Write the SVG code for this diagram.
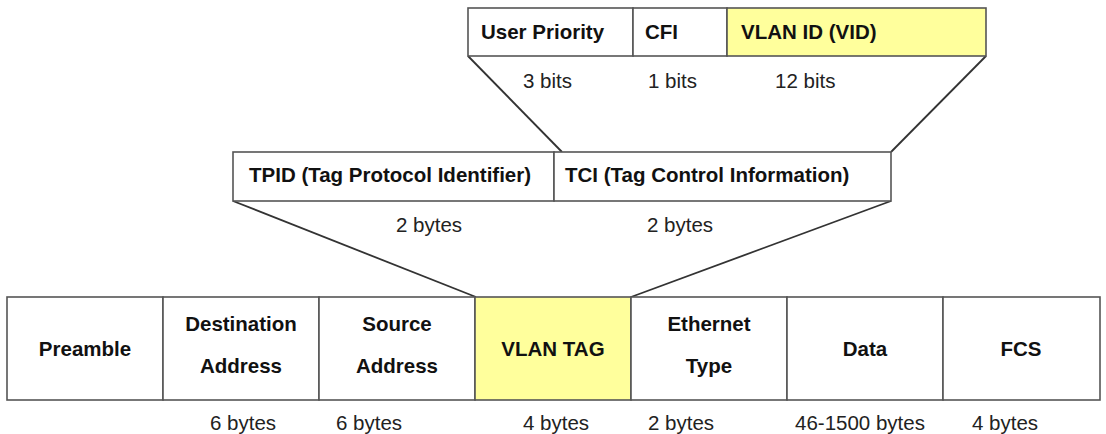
<svg xmlns="http://www.w3.org/2000/svg" width="1106" height="434" viewBox="0 0 1106 434">
<style>
.box{fill:#ffffff;stroke:#555555;stroke-width:1.6}
.hl{fill:#ffff9c;stroke:#555555;stroke-width:1.6}
.lbl{font-family:"Liberation Sans",Arial,sans-serif;font-weight:bold;font-size:20.5px;fill:#111111}
.c{text-anchor:middle}
.sz{font-family:"Liberation Sans",Arial,sans-serif;font-size:20.5px;fill:#222222}
.conn{stroke:#333333;stroke-width:1.8;fill:none}
</style>
<rect width="1106" height="434" fill="#ffffff"/>
<g id="connectors">
<line class="conn" x1="468" y1="56" x2="562" y2="152"/>
<line class="conn" x1="986" y1="56" x2="891" y2="152"/>
<line class="conn" x1="233" y1="201" x2="476" y2="297"/>
<line class="conn" x1="891" y1="201" x2="631" y2="297"/>
</g>
<g id="tci-fields">
<g id="user-priority"><rect class="box" x="468" y="8" width="165" height="48"/><text class="lbl" x="481" y="39">User Priority</text></g>
<g id="cfi"><rect class="box" x="633" y="8" width="94" height="48"/><text class="lbl" x="645" y="39">CFI</text></g>
<g id="vlan-id"><rect class="hl" x="727" y="8" width="259" height="48"/><text class="lbl" x="741" y="39">VLAN ID (VID)</text></g>
<text class="sz" x="523" y="88">3 bits</text>
<text class="sz" x="648" y="88">1 bits</text>
<text class="sz" x="775" y="88">12 bits</text>
</g>
<g id="tag-fields">
<g id="tpid"><rect class="box" x="233" y="152" width="321" height="49"/><text class="lbl" x="249" y="182">TPID (Tag Protocol Identifier)</text></g>
<g id="tci"><rect class="box" x="554" y="152" width="337" height="49"/><text class="lbl" x="565" y="182">TCI (Tag Control Information)</text></g>
<text class="sz" x="396" y="232">2 bytes</text>
<text class="sz" x="647" y="232">2 bytes</text>
</g>
<g id="frame">
<g id="preamble"><rect class="box" x="7" y="297" width="156" height="103"/><text class="lbl c" x="85" y="356">Preamble</text></g>
<g id="destination"><rect class="box" x="163" y="297" width="156" height="103"/><text class="lbl c" x="241" y="331">Destination</text><text class="lbl c" x="241" y="373">Address</text></g>
<g id="source"><rect class="box" x="319" y="297" width="156" height="103"/><text class="lbl c" x="397" y="331">Source</text><text class="lbl c" x="397" y="373">Address</text></g>
<g id="vlan-tag"><rect class="hl" x="475" y="297" width="156" height="103"/><text class="lbl c" x="553" y="356">VLAN TAG</text></g>
<g id="ethertype"><rect class="box" x="631" y="297" width="156" height="103"/><text class="lbl c" x="709" y="331">Ethernet</text><text class="lbl c" x="709" y="373">Type</text></g>
<g id="data"><rect class="box" x="787" y="297" width="156" height="103"/><text class="lbl c" x="865" y="356">Data</text></g>
<g id="fcs"><rect class="box" x="943" y="297" width="157" height="103"/><text class="lbl c" x="1021" y="356">FCS</text></g>
<text class="sz" x="210" y="430">6 bytes</text>
<text class="sz" x="336" y="430">6 bytes</text>
<text class="sz" x="523" y="430">4 bytes</text>
<text class="sz" x="648" y="430">2 bytes</text>
<text class="sz" x="795" y="430">46-1500 bytes</text>
<text class="sz" x="972" y="430">4 bytes</text>
</g>
</svg>
